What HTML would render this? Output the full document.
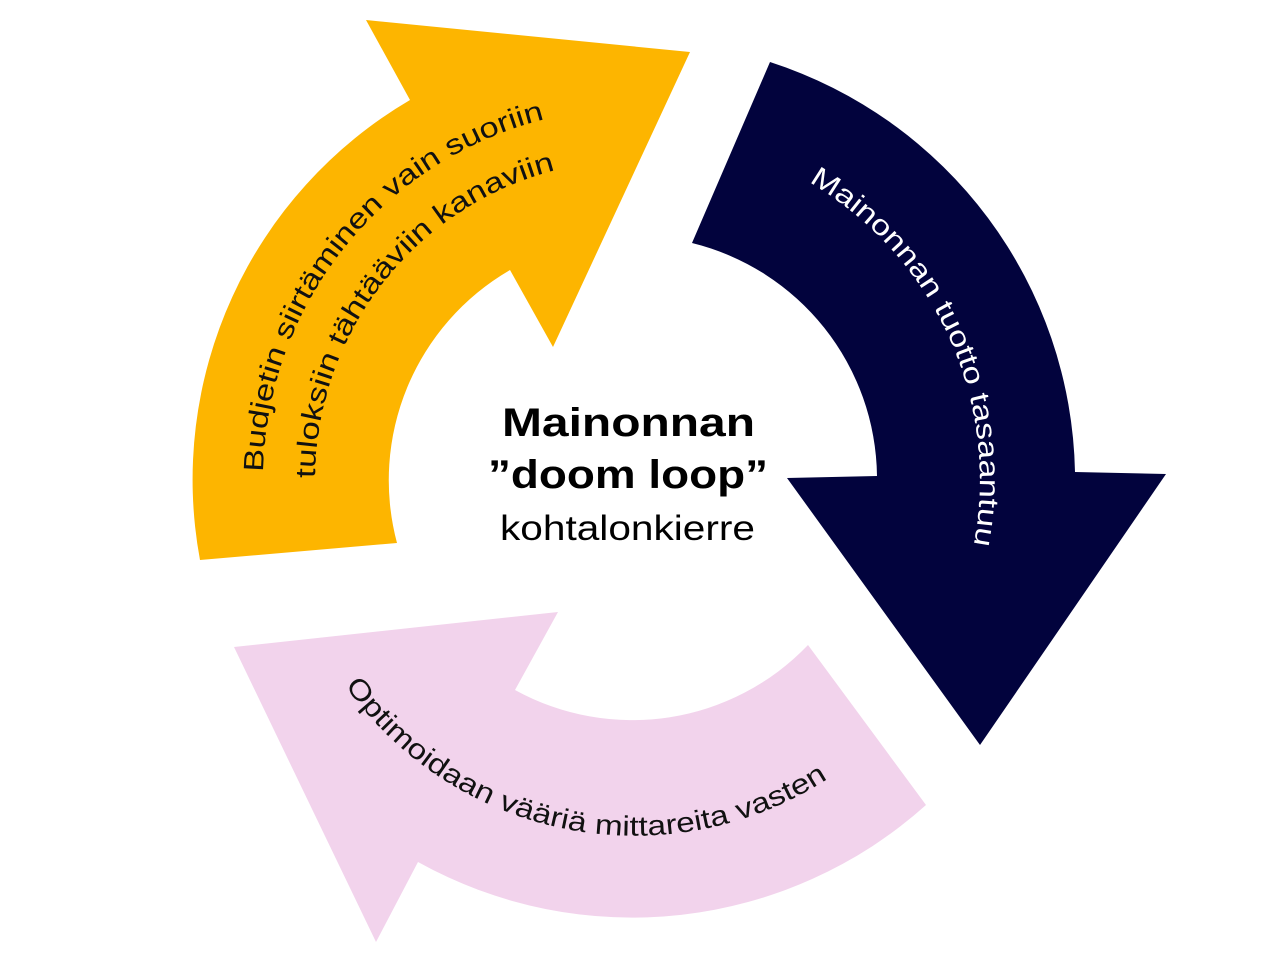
<!DOCTYPE html>
<html><head><meta charset="utf-8"><style>
html,body{margin:0;padding:0;background:#fff;}
svg{display:block;}
text{font-family:"Liberation Sans",sans-serif;}
</style></head><body>
<svg width="1280" height="965" viewBox="0 0 1280 965" xmlns="http://www.w3.org/2000/svg">
<defs>
<path id="y1" d="M 263,474 A 372 372 0 0 1 821,158"/>
<path id="y2" d="M 315,480 A 320 320 0 0 1 795,203"/>
<path id="d1" d="M 807,181 A 345 345 0 0 1 635,825"/>
<path id="p1" d="M 344,684 A 355 355 0 0 0 969,601"/>
</defs>
<path d="M 200,560 A 440 440 0 0 1 410,100 L 366,20 L 690,52 L 553,347 L 510,270 A 243 243 0 0 0 397,543 Z" fill="#FDB500"/>
<path d="M 770,62 A 440 440 0 0 1 1075,472 L 1166,474 L 980,745 L 787,478 L 877,476 A 243 243 0 0 0 692,243 Z" fill="#02033D"/>
<path d="M 808,645 A 243 243 0 0 1 515,690 L 558,612 L 234,647 L 376,942 L 418,862 A 440 440 0 0 0 926,805 Z" fill="#F2D3EC"/>
<text font-size="28" fill="#111"><textPath href="#y1" startOffset="2" textLength="485" lengthAdjust="spacingAndGlyphs">Budjetin siirtäminen vain suoriin</textPath></text>
<text font-size="28" fill="#111"><textPath href="#y2" startOffset="2" textLength="420" lengthAdjust="spacingAndGlyphs">tuloksiin tähtääviin kanaviin</textPath></text>
<text font-size="28" fill="#fff"><textPath href="#d1" startOffset="2" textLength="425" lengthAdjust="spacingAndGlyphs">Mainonnan tuotto tasaantuu</textPath></text>
<text font-size="28" fill="#111"><textPath href="#p1" startOffset="2" textLength="543" lengthAdjust="spacingAndGlyphs">Optimoidaan vääriä mittareita vasten</textPath></text>
<text x="502" y="436" font-size="40" font-weight="bold" fill="#000" textLength="253" lengthAdjust="spacingAndGlyphs">Mainonnan</text>
<text x="488" y="488" font-size="40" font-weight="bold" fill="#000" textLength="280" lengthAdjust="spacingAndGlyphs">”doom loop”</text>
<text x="500" y="540" font-size="35" fill="#000" textLength="255" lengthAdjust="spacingAndGlyphs">kohtalonkierre</text>
</svg>
</body></html>
